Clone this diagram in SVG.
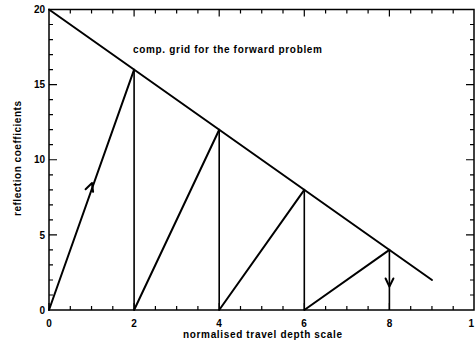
<svg xmlns="http://www.w3.org/2000/svg" width="475" height="341" viewBox="0 0 475 341">
<style>
.t{font-family:"Liberation Sans",Arial,sans-serif;font-weight:bold;font-size:10px;fill:#000}
.ax{fill:none;stroke:#000;stroke-width:1.5}
.tk{fill:none;stroke:#000;stroke-width:1.2}
.ln{fill:none;stroke:#000;stroke-width:2;stroke-linecap:round;stroke-linejoin:round}
.vl{fill:none;stroke:#000;stroke-width:1.6}
</style>
<rect width="475" height="341" fill="#fff"/>
<g id="axes">
<rect class="ax" x="49" y="9.5" width="425" height="300.5"/>
<path class="tk" d="M49,310v-7M70.3,310v-4M91.55,310v-4M112.8,310v-4M134.1,310v-7M155.4,310v-4M176.65,310v-4M197.9,310v-4M219.2,310v-7M240.5,310v-4M261.75,310v-4M283,310v-4M304.3,310v-7M325.6,310v-4M346.85,310v-4M368.1,310v-4M389.4,310v-7M410.7,310v-4M431.95,310v-4M453.2,310v-4
M70.3,9.5v4M91.55,9.5v4M112.8,9.5v4M134.1,9.5v7M155.4,9.5v4M176.65,9.5v4M197.9,9.5v4M219.2,9.5v7M240.5,9.5v4M261.75,9.5v4M283,9.5v4M304.3,9.5v7M325.6,9.5v4M346.85,9.5v4M368.1,9.5v4M389.4,9.5v7M410.7,9.5v4M431.95,9.5v4M453.2,9.5v4
M49,295h4M49,280h4M49,264.9h4M49,249.9h4M49,234.9h8M49,219.9h4M49,204.8h4M49,189.8h4M49,174.8h4M49,159.75h8M49,144.7h4M49,129.7h4M49,114.7h4M49,99.65h4M49,84.6h8M49,69.6h4M49,54.6h4M49,39.55h4M49,24.5h4
M474,295h-4M474,280h-4M474,264.9h-4M474,249.9h-4M474,234.9h-8M474,219.9h-4M474,204.8h-4M474,189.8h-4M474,174.8h-4M474,159.75h-8M474,144.7h-4M474,129.7h-4M474,114.7h-4M474,99.65h-4M474,84.6h-8M474,69.6h-4M474,54.6h-4M474,39.55h-4M474,24.5h-4"/>
<g class="t" text-anchor="middle">
<text x="49" y="327">0</text>
<text x="134" y="327">2</text>
<text x="219" y="327">4</text>
<text x="304" y="327">6</text>
<text x="389.5" y="327">8</text>
</g>
<text class="t" x="468.5" y="327">1</text>
<g class="t" text-anchor="end">
<text x="45" y="313.5">0</text>
<text x="45" y="238.5">5</text>
<text x="45" y="163">10</text>
<text x="45" y="88">15</text>
<text x="45" y="13">20</text>
</g>
<text class="t" x="183" y="337.5" textLength="159" lengthAdjust="spacing">normalised travel depth scale</text>
<text class="t" transform="translate(21,216) rotate(-90)" textLength="115" lengthAdjust="spacing">reflection coefficients</text>
</g>
<g id="title"><text class="t" x="133" y="53" textLength="189" lengthAdjust="spacing">comp. grid for the forward problem</text></g>
<g id="connectors">
<path class="ln" d="M49,9.5L432,280"/>
<path class="ln" d="M49,310L134.1,69.6M134.1,310L219.2,129.7M219.2,310L304.3,189.8M304.3,310L389.4,249.9"/>
<path class="vl" d="M134.1,69.6V310M219.2,129.7V310M304.3,189.8V310M389.4,249.9V310"/>
<path class="ln" d="M85.6,189.2L92,183L93.1,191.8"/>
<path class="ln" d="M385.6,278.5L389.4,286.5L393.4,278.5"/>
</g>
</svg>
